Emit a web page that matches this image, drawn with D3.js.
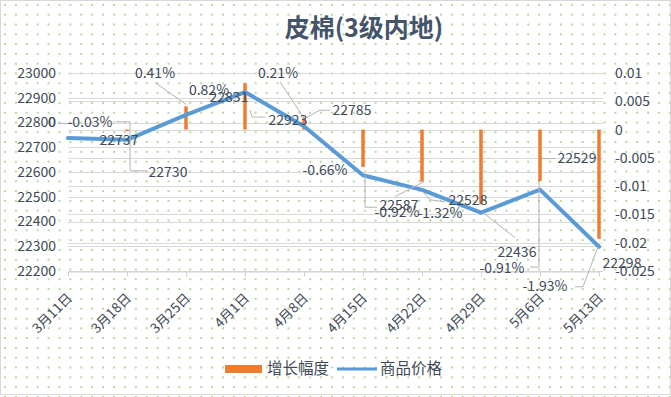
<!DOCTYPE html>
<html>
<head>
<meta charset="utf-8">
<script src="https://cdn.jsdelivr.net/npm/d3@7/dist/d3.min.js"></script>
<style>
  body { margin: 0; background: #fff; }
  svg text { font-family: "Noto Sans CJK SC", "Noto Sans", sans-serif; fill: #414a58; }
</style>
</head>
<body>
<div id="chart"></div>
<script>
// categories and series
const dates = ['3月11日', '3月18日', '3月25日', '4月1日', '4月8日', '4月15日', '4月22日', '4月29日', '5月6日', '5月13日']
const prices = [22737, 22730, 22831, 22923, 22785, 22587, 22528, 22436, 22529, 22298]
const growth = [0, -0.0003, 0.0041, 0.0082, 0.0021, -0.0066, -0.0092, -0.0132, -0.0091, -0.0193]
const growthLabels = ['0', '-0.03%', '0.41%', '0.82%', '0.21%', '-0.66%', '-0.92%', '-1.32%', '-0.91%', '-1.93%']
const leftTicks = [22200, 22300, 22400, 22500, 22600, 22700, 22800, 22900, 23000]
const rightTicks = [-0.025, -0.02, -0.015, -0.01, -0.005, 0, 0.005, 0.01]

// where excel left the dragged data labels (offset from the mark) and their leader lines
const priceLabelPos = [[51, 2], [41, 32], [43, -18], [43, 28], [48, -16], [36, 30], [46, 10], [36, 40], [37, -31], [23, 16]]
const priceLeaders = [null, [[20, 31], [3, 31], [3, -18], [-11, -18]], null, [[5, 18], [7, 25], [20, 25]],
  [[3, -9], [16, -16], [26, -16]], [[2, 0], [2, 32], [14, 32]], [[1, 2], [8, 10], [23, 12]],
  [[2, 0], [34, 25]], [[2, -31], [15, -31]], null]
const growthLabelPos = [[-16, -7], [-37, -9], [-31, -33], [-36, 7], [-26, -45], [-38, 3], [-25, 30], [-41, 9], [-38, 87], [-54, 47]]
const growthLeaders = [[[-10, -6], [0, -6]], null, [[-31, -24], [0, -2]], null, [[-24, -36], [1, 2]], null,
  [[2, 0], [-27, 15]], null, [[-1, 0], [-1, 86], [-10, 86]], [[-1, 8], [-16, 48], [-24, 48]]]

const W = 671
const H = 397

const svg = d3.select('#chart').append('svg')
  .attr('width', W)
  .attr('height', H)

// dotted background
const defs = svg.append('defs')
const pat = defs.append('pattern')
  .attr('id', 'dots')
  .attr('patternUnits', 'userSpaceOnUse')
  .attr('width', 10.9)
  .attr('height', 9.8)
pat.append('circle').attr('cx', 5).attr('cy', 5).attr('r', 1).attr('fill', '#9ccb7c')

svg.append('rect').attr('width', W).attr('height', H).attr('fill', '#fff')
svg.append('rect').attr('width', W).attr('height', H).attr('fill', 'url(#dots)')
svg.append('rect')
  .attr('x', 0.5).attr('y', 0.5)
  .attr('width', W - 1).attr('height', H - 3)
  .attr('fill', 'none')
  .attr('stroke', '#d9d9d9')

let x = d3.scalePoint().domain(dates).range([68, 599])
let yL = d3.scaleLinear().domain([22200, 23000]).range([271, 73])
let yR = d3.scaleLinear().domain([-0.025, 0.01]).range([271, 73])
let gridRight = 603

// gridlines for both axes
svg.append('g').selectAll('line')
  .data(leftTicks)
  .enter().append('line')
  .attr('x1', 68).attr('x2', gridRight)
  .attr('y1', d => Math.round(yL(d)) + 0.5)
  .attr('y2', d => Math.round(yL(d)) + 0.5)
  .attr('stroke', '#d9d9d9')
svg.append('g').selectAll('line')
  .data(rightTicks)
  .enter().append('line')
  .attr('x1', 68).attr('x2', gridRight)
  .attr('y1', d => Math.round(yR(d)) + 0.5)
  .attr('y2', d => Math.round(yR(d)) + 0.5)
  .attr('stroke', '#d9d9d9')

// axes
let gL = svg.append('g')
  .attr('transform', 'translate(68,0)')
  .call(d3.axisLeft(yL).tickValues(leftTicks).tickSize(0).tickPadding(12).tickFormat(d3.format('d')))
gL.select('.domain').remove()
gL.selectAll('text').style('font-size', '14px')

let gR = svg.append('g')
  .attr('transform', 'translate(' + gridRight + ',0)')
  .call(d3.axisRight(yR).tickValues(rightTicks).tickSize(0).tickPadding(12).tickFormat(d => String(+d.toFixed(3))))
gR.select('.domain').remove()
gR.selectAll('text').style('font-size', '14px')

let gX = svg.append('g')
  .attr('transform', 'translate(0,271.5)')
  .call(d3.axisBottom(x).tickSize(5).tickSizeOuter(0).tickFormat(''))
gX.select('.domain').attr('stroke', '#d0d0d0')
gX.selectAll('.tick line').attr('stroke', '#d0d0d0')

svg.append('g').selectAll('text')
  .data(dates)
  .enter().append('text')
  .attr('transform', d => 'translate(' + (x(d) + 5) + ',299) rotate(-45)')
  .attr('text-anchor', 'end')
  .style('font-size', '13.5px')
  .text(d => d)

// growth bars
svg.append('g').selectAll('rect')
  .data(growth)
  .enter().append('rect')
  .attr('x', (d, i) => x(dates[i]) - 1.75)
  .attr('width', 3.5)
  .attr('y', d => Math.min(yR(d), yR(0)))
  .attr('height', d => Math.abs(yR(d) - yR(0)))
  .attr('fill', '#ed7d31')

// price line
let line = d3.line()
  .x((d, i) => x(dates[i]))
  .y(d => yL(d))
svg.append('path')
  .datum(prices)
  .attr('d', line)
  .attr('fill', 'none')
  .attr('stroke', '#5b9bd5')
  .attr('stroke-width', 4)
  .attr('stroke-linejoin', 'round')
  .attr('stroke-linecap', 'round')

// leader lines
let leaderLine = d3.line()
function drawLeaders (leaders, anchor) {
  svg.append('g').selectAll('path')
    .data(leaders.map((l, i) => l ? l.map(p => [anchor(i)[0] + p[0], anchor(i)[1] + p[1]]) : null).filter(l => l))
    .enter().append('path')
    .attr('d', leaderLine)
    .attr('fill', 'none')
    .attr('stroke', '#b4b4b4')
    .attr('stroke-width', 1)
}
let priceAnchor = i => [x(dates[i]), yL(prices[i])]
let growthAnchor = i => [x(dates[i]), yR(growth[i])]
drawLeaders(priceLeaders, priceAnchor)
drawLeaders(growthLeaders, growthAnchor)

// data labels
svg.append('g').selectAll('text')
  .data(prices)
  .enter().append('text')
  .attr('x', (d, i) => priceAnchor(i)[0] + priceLabelPos[i][0])
  .attr('y', (d, i) => priceAnchor(i)[1] + priceLabelPos[i][1])
  .attr('dy', '0.35em')
  .attr('text-anchor', 'middle')
  .style('font-size', '14px')
  .text(d => d)

svg.append('g').selectAll('text')
  .data(growthLabels)
  .enter().append('text')
  .attr('x', (d, i) => growthAnchor(i)[0] + growthLabelPos[i][0])
  .attr('y', (d, i) => growthAnchor(i)[1] + growthLabelPos[i][1])
  .attr('dy', '0.35em')
  .attr('text-anchor', 'middle')
  .style('font-size', '14px')
  .text(d => d)

// title
svg.append('text')
  .attr('x', 364)
  .attr('y', 37)
  .attr('text-anchor', 'middle')
  .style('font-size', '25px')
  .style('font-weight', 'bold')
  .style('fill', '#44546a')
  .text('皮棉(3级内地)')

// legend
let legend = svg.append('g').attr('transform', 'translate(225,369)')
legend.append('rect').attr('x', 0).attr('y', -4).attr('width', 37).attr('height', 8).attr('fill', '#ed7d31')
legend.append('text').attr('x', 42).attr('dy', '0.35em').style('font-size', '15.5px').text('增长幅度')
legend.append('line').attr('x1', 112).attr('x2', 152).attr('stroke', '#5b9bd5').attr('stroke-width', 3)
legend.append('text').attr('x', 155).attr('dy', '0.35em').style('font-size', '15.5px').text('商品价格')
</script>
</body>
</html>
